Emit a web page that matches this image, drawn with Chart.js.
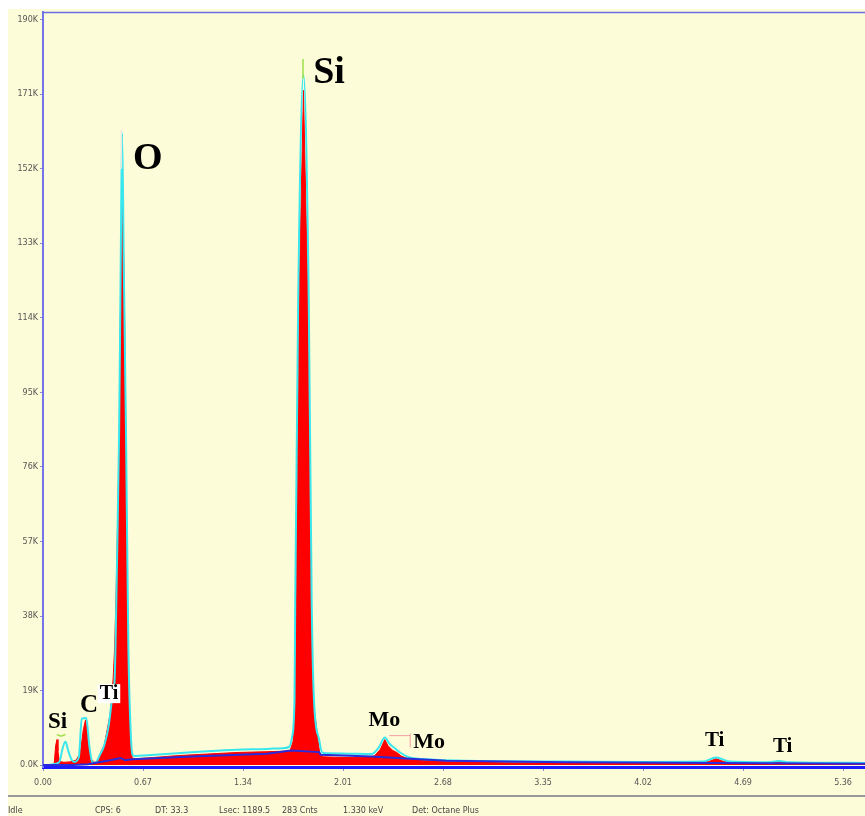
<!DOCTYPE html>
<html lang="en">
<head>
<meta charset="UTF-8">
<title>EDS Spectrum</title>
<script src="https://cdn.jsdelivr.net/npm/chart.js"></script>
<style>
  html, body { margin: 0; padding: 0; background: #ffffff; }
  #wrap { position: relative; width: 865px; height: 816px; }
</style>
</head>
<body>
<div id="wrap"><canvas id="spectrum" width="865" height="816"></canvas></div>
<script>
// axis ticks
const xTickValues = [0, 0.67, 1.34, 2.01, 2.68, 3.35, 4.02, 4.69, 5.36];
const xTickLabels = ['0.00', '0.67', '1.34', '2.01', '2.68', '3.35', '4.02', '4.69', '5.36'];
const yTickValues = [0, 19000, 38000, 57000, 76000, 95000, 114000, 133000, 152000, 171000, 190000];
const yTickLabels = ['0.0K', '19K', '38K', '57K', '76K', '95K', '114K', '133K', '152K', '171K', '190K'];

// measured spectrum (red): energy keV / counts
const specKeV = [0.00, 0.06, 0.075, 0.085, 0.094, 0.10, 0.11, 0.14, 0.18, 0.22, 0.25, 0.27, 0.285, 0.30, 0.32, 0.35,
  0.37, 0.39, 0.41, 0.45, 0.47, 0.48, 0.49, 0.496, 0.51, 0.52, 0.53, 0.545, 0.556, 0.57, 0.585, 0.597, 0.62,
  0.70, 0.80, 0.90, 1.00, 1.10, 1.20, 1.30, 1.40, 1.50, 1.60, 1.655, 1.675, 1.69, 1.695, 1.715, 1.745, 1.775, 1.795,
  1.81, 1.843, 1.856, 1.88, 1.95, 2.05, 2.15, 2.22, 2.26, 2.29, 2.31, 2.34, 2.37, 2.40, 2.45, 2.55, 2.70, 3.00,
  3.50, 4.00, 4.40, 4.46, 4.51, 4.56, 4.62, 4.85, 4.93, 5.00, 5.20, 5.51];
const specCounts = [0, 0, 300, 5000, 6500, 3500, 900, 700, 800, 1200, 3000, 9000, 11500, 7000, 1500, 600,
  1500, 3500, 5000, 13000, 22000, 30000, 44000, 55000, 80000, 120000, 150000, 120000, 80000, 29000, 8000, 1800, 1600,
  1800, 2100, 2400, 2600, 2800, 3000, 3200, 3300, 3400, 3500, 3600, 6000, 16000, 42000, 118000, 172000, 118000, 42000,
  16500, 6000, 2500, 2100, 2000, 1900, 1900, 2300, 4000, 6500, 5000, 3800, 3200, 2300, 1500, 1200, 1000, 800,
  650, 550, 550, 900, 1600, 900, 500, 450, 700, 450, 400, 350];

// fitted envelope (cyan)
const fitKeV = [0.00, 0.05, 0.08, 0.11, 0.13, 0.15, 0.17, 0.19, 0.21, 0.24, 0.26, 0.29, 0.31, 0.33, 0.35, 0.38,
  0.41, 0.44, 0.46, 0.48, 0.495, 0.51, 0.52, 0.53, 0.542, 0.556, 0.572, 0.588, 0.60, 0.62, 0.70, 0.90, 1.10, 1.30,
  1.50, 1.60, 1.648, 1.668, 1.685, 1.69, 1.71, 1.745, 1.78, 1.80, 1.815, 1.85, 1.87, 1.90, 2.05, 2.20, 2.25, 2.29,
  2.32, 2.36, 2.40, 2.45, 2.60, 3.00, 3.50, 4.00, 4.42, 4.51, 4.60, 4.85, 4.93, 5.00, 5.51];
const fitCounts = [0, 100, 300, 800, 4000, 6000, 3500, 1500, 800, 2000, 11800, 12000, 5000, 800, 600, 2500,
  5000, 10000, 16000, 22000, 50000, 85000, 125000, 161000, 125000, 85000, 30000, 8000, 2600, 2300, 2500, 3000, 3500, 3900,
  4100, 4300, 4600, 7000, 17000, 42000, 120000, 176000, 120000, 42000, 17000, 6500, 3200, 3000, 2900, 2800, 4500, 7000,
  5500, 4200, 3000, 2000, 1400, 1000, 900, 800, 900, 1900, 900, 700, 1000, 700, 550];

// background model (blue)
const bgKeV = [0.00, 0.20, 0.30, 0.45, 0.52, 0.55, 0.60, 1.00, 1.50, 1.66, 1.85, 1.86, 2.20, 2.40, 2.70, 3.50, 4.50, 5.51];
const bgCounts = [0, 0, 200, 1200, 1800, 1200, 1500, 2200, 2900, 3700, 3300, 2600, 2200, 1700, 1100, 700, 500, 350];

// peak labels
const peakNames = ['Si', 'C', 'Ti', 'O', 'Si', 'Mo', 'Mo', 'Ti', 'Ti'];
const peakKeV = [0.034, 0.248, 0.38, 0.603, 1.81, 2.18, 2.48, 4.435, 4.89];
const peakCounts = [9400, 13500, 16800, 152000, 174000, 10000, 4300, 4800, 3300];
const peakSizes = [23, 25, 20, 38, 38, 22, 22, 21, 21];

// status bar
const statusTexts = ['Idle', 'CPS: 6', 'DT: 33.3', 'Lsec: 1189.5', '283 Cnts', '1.330 keV', 'Det: Octane Plus'];
const statusX = [8, 95, 155, 219, 282, 343, 412];

const toPoints = (xs, ys) => xs.map((x, i) => ({ x: x, y: ys[i] }));

const backgroundPlugin = {
  id: 'bg',
  beforeDraw(chart) {
    const c = chart.ctx;
    c.save();
    c.fillStyle = '#ffffff';
    c.fillRect(0, 0, chart.width, chart.height);
    c.fillStyle = '#fdfcd8';
    c.fillRect(8, 9, chart.width - 8, chart.height - 9);
    c.restore();
  },
  afterDraw(chart) {
    const c = chart.ctx;
    const a = chart.chartArea;
    c.save();
    // frame top
    c.strokeStyle = '#6b6be6';
    c.lineWidth = 1.5;
    c.beginPath();
    c.moveTo(a.left, a.top + 0.5);
    c.lineTo(a.right, a.top + 0.5);
    c.stroke();
    // status separator
    c.strokeStyle = '#9a9a9a';
    c.lineWidth = 2;
    c.beginPath();
    c.moveTo(8, 796);
    c.lineTo(chart.width, 796);
    c.stroke();
    c.fillStyle = '#444';
    c.font = '8px "DejaVu Sans"';
    c.textBaseline = 'middle';
    statusTexts.forEach((t, i) => c.fillText(t, statusX[i], 811));
    c.restore();
  }
};

const labelPlugin = {
  id: 'peakLabels',
  afterDatasetsDraw(chart) {
    const c = chart.ctx;
    const xs = chart.scales.x, ys = chart.scales.y;
    c.save();
    // small line markers
    c.lineWidth = 1.5;
    c.strokeStyle = '#9fe04a';
    const sx = xs.getPixelForValue(1.742);
    c.beginPath();
    c.moveTo(sx, ys.getPixelForValue(180000));
    c.lineTo(sx, ys.getPixelForValue(175000));
    c.stroke();
    c.beginPath();
    c.moveTo(xs.getPixelForValue(0.094), ys.getPixelForValue(7800));
    c.quadraticCurveTo(xs.getPixelForValue(0.12), ys.getPixelForValue(7000), xs.getPixelForValue(0.15), ys.getPixelForValue(7800));
    c.stroke();
    c.strokeStyle = '#e8e8e0';
    const ox = xs.getPixelForValue(0.525);
    c.beginPath();
    c.moveTo(ox, ys.getPixelForValue(162000));
    c.lineTo(ox, ys.getPixelForValue(152000));
    c.stroke();
    c.strokeStyle = '#f0a0a0';
    c.lineWidth = 1;
    const mx = xs.getPixelForValue(2.46);
    c.beginPath();
    c.moveTo(xs.getPixelForValue(2.32), ys.getPixelForValue(7500));
    c.lineTo(mx, ys.getPixelForValue(7500));
    c.moveTo(mx, ys.getPixelForValue(8000));
    c.lineTo(mx, ys.getPixelForValue(4500));
    c.stroke();

    c.textBaseline = 'alphabetic';
    c.textAlign = 'left';
    peakNames.forEach((t, i) => {
      c.font = 'bold ' + peakSizes[i] + 'px "Liberation Serif", "DejaVu Serif", serif';
      const px = xs.getPixelForValue(peakKeV[i]);
      const py = ys.getPixelForValue(peakCounts[i]);
      if (i === 2) {
        const w = c.measureText(t).width;
        c.fillStyle = '#ffffff';
        c.fillRect(px - 2, py - peakSizes[i] * 0.75, w + 4, peakSizes[i] * 0.95);
      }
      c.fillStyle = '#000000';
      c.fillText(t, px, py);
    });
    c.restore();
  }
};

new Chart(document.getElementById('spectrum'), {
  type: 'scatter',
  data: {
    datasets: [
      {
        label: 'Background',
        data: toPoints(bgKeV, bgCounts),
        showLine: true,
        borderColor: '#2a2ad8',
        borderWidth: 2,
        pointRadius: 0,
        tension: 0,
        order: 0
      },
      {
        label: 'Fit',
        data: toPoints(fitKeV, fitCounts),
        showLine: true,
        borderColor: '#38e6ee',
        borderWidth: 2,
        pointRadius: 0,
        cubicInterpolationMode: 'monotone',
        order: 1
      },
      {
        label: 'Spectrum',
        data: toPoints(specKeV, specCounts),
        showLine: true,
        borderColor: '#ff0000',
        backgroundColor: '#ff0000',
        borderWidth: 1,
        pointRadius: 0,
        tension: 0,
        fill: 'origin',
        order: 2
      }
    ]
  },
  options: {
    responsive: false,
    animation: false,
    layout: { padding: { top: 12, left: 0, right: 0, bottom: 0 } },
    plugins: {
      legend: { display: false },
      tooltip: { enabled: false }
    },
    scales: {
      x: {
        type: 'linear',
        min: 0,
        max: 5.507,
        afterFit: s => { s.height = 49; },
        afterBuildTicks: s => { s.ticks = xTickValues.map(v => ({ value: v })); },
        ticks: {
          autoSkip: false,
          maxRotation: 0,
          padding: 7,
          color: '#555',
          font: { family: 'DejaVu Sans', size: 8 },
          callback: (v, i) => xTickLabels[i]
        },
        grid: { drawOnChartArea: false, tickLength: 4, color: '#8a8ad0' },
        border: { color: '#1c1cff', width: 3 }
      },
      y: {
        min: -500,
        max: 192000,
        afterFit: s => { s.width = 43; },
        afterBuildTicks: s => { s.ticks = yTickValues.map(v => ({ value: v })); },
        ticks: {
          autoSkip: false,
          padding: 2,
          color: '#555',
          font: { family: 'DejaVu Sans', size: 8 },
          callback: (v, i) => yTickLabels[i]
        },
        grid: { drawOnChartArea: false, tickLength: 3, color: '#8a8ad0' },
        border: { color: '#7474ec', width: 2 }
      }
    }
  },
  plugins: [backgroundPlugin, labelPlugin]
});
</script>
</body>
</html>
